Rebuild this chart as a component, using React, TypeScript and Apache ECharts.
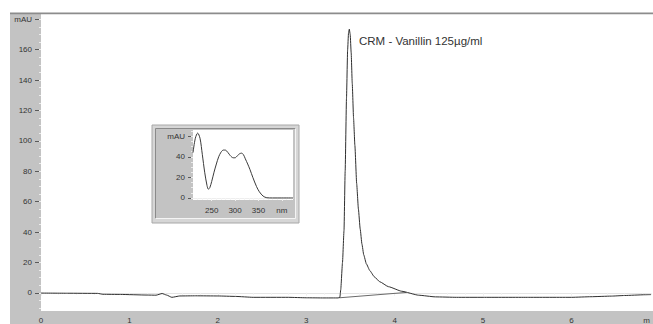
import React, { useEffect, useRef } from "react";
import * as echarts from "echarts";

// Main chromatogram (time in min, absorbance in mAU)
const timeMin = [
  0, 0.3, 0.64, 0.7, 0.9, 1.2, 1.3, 1.37, 1.42, 1.48, 1.57, 1.75, 2.0, 2.2, 2.4, 2.8, 3.0, 3.2, 3.36,
  3.38, 3.39, 3.41, 3.427, 3.44, 3.455, 3.468, 3.478, 3.487, 3.497, 3.508, 3.52, 3.535, 3.55, 3.57,
  3.59, 3.61, 3.63, 3.65, 3.68, 3.72, 3.77, 3.83, 3.93, 4.08, 4.27, 4.46, 4.7, 5.0, 5.5, 6.0, 6.22,
  6.45, 6.6, 6.83, 6.9,
];
const absorbance = [
  -0.2, -0.3, -0.4, -1.0, -1.1, -1.5, -1.6, -0.5, -1.5, -3.0, -2.1, -2.0, -2.1, -2.4, -3.0, -3.0, -3.3,
  -3.4, -3.4, -3.0, 2, 20, 41, 80, 128, 160, 171, 173.5, 170, 158, 138, 115, 97, 72, 55, 42, 32, 25,
  19, 14.5, 10.5, 7.3, 4, 1, -1.6, -2.7, -3.0, -3.0, -3.0, -3.0, -2.6, -2.2, -1.8, -1.3, -1.2,
];
// Integration baseline under the peak
const baselineTime = [3.375, 4.13];
const baselineValue = [-3.3, 0.2];

// Inset UV spectrum
const spectrumNm = [
  210, 215, 220, 225, 230, 235, 240, 243, 246, 250, 255, 260, 265, 270, 275, 279, 285, 290, 296, 300,
  305, 310, 314, 318, 322, 327, 332, 338, 346, 352, 360, 368, 380, 400, 424,
];
const spectrumMau = [
  44, 58, 63, 58, 42, 25, 12, 8.5, 10, 16, 25, 33, 40, 44.5, 46.5, 46.5, 44, 41, 39, 39, 41, 43, 43.5,
  42, 38, 33, 27.5, 20, 11, 6, 1.8, 0.2, 0, 0, 0,
];

// Tick labels
const mainYTicks = [0, 20, 40, 60, 80, 100, 120, 140, 160, 180];
const mainYUnitTick = 180;
const mainXTicks = [0, 1, 2, 3, 4, 5, 6];
const mainXUnitPos = 6.85;
const insetXTicks = [250, 300, 350, 400];
const insetXUnitTick = 400;
const insetYTicks = [0, 20, 40, 60];
const insetYUnitTick = 60;

const annotation = "CRM - Vanillin 125µg/ml";

const FONT = "Liberation Sans, Arial, sans-serif";

function range(a: number, b: number, step: number) {
  const out: number[] = [];
  for (let v = a; v <= b + 1e-9; v += step) out.push(Math.round(v * 1000) / 1000);
  return out;
}

export default function App() {
  const ref = useRef<HTMLDivElement>(null);
  useEffect(() => {
    document.body.style.margin = "0";
    if (!ref.current) return;
    const chart = echarts.init(ref.current, undefined, { renderer: "svg" });

    const mainData = timeMin.map((t, i) => [t, absorbance[i]]);
    const baseData = baselineTime.map((t, i) => [t, baselineValue[i]]);
    const specData = spectrumNm.map((n, i) => [n, spectrumMau[i]]);

    const labelStyle = { fontSize: 8, color: "#333", fontFamily: FONT };

    chart.setOption({
      animation: false,
      grid: [
        { left: 41, top: 14, width: 612, height: 297, show: false },
        { left: 193, top: 130, width: 100, height: 70, show: false },
      ],
      xAxis: [
        {
          type: "value", gridIndex: 0, position: "bottom", min: 0, max: 6.9,
          axisLine: { show: true, lineStyle: { color: "#e4e4e4", width: 1 } },
          axisTick: { show: true, customValues: mainXTicks, length: 3, lineStyle: { color: "#f0f0f0" } },
          axisLabel: {
            ...labelStyle, margin: 5,
            customValues: [...mainXTicks, mainXUnitPos],
            formatter: (v: number) => (Math.abs(v - mainXUnitPos) < 1e-6 ? "m" : String(v)),
          },
          splitLine: { show: false },
        },
        {
          type: "value", gridIndex: 0, position: "bottom", min: 0, max: 6.9,
          axisLine: { show: false },
          axisTick: { show: true, customValues: range(0, 6.8, 0.2), length: 2, lineStyle: { color: "#f0f0f0" } },
          axisLabel: { show: false },
          splitLine: { show: false },
        },
        {
          type: "value", gridIndex: 1, position: "bottom", min: 210, max: 424,
          axisLine: { show: true, lineStyle: { color: "#eeeeee" } },
          axisTick: { show: true, customValues: insetXTicks, length: 3, lineStyle: { color: "#f4f4f4" } },
          axisLabel: {
            ...labelStyle, margin: 6,
            customValues: insetXTicks,
            formatter: (v: number) => (v === insetXUnitTick ? "nm" : String(v)),
          },
          splitLine: { show: false },
        },
        {
          type: "value", gridIndex: 1, position: "bottom", min: 210, max: 424,
          axisLine: { show: false },
          axisTick: { show: true, customValues: range(220, 420, 10), length: 2, lineStyle: { color: "#f4f4f4" } },
          axisLabel: { show: false },
          splitLine: { show: false },
        },
      ],
      yAxis: [
        {
          type: "value", gridIndex: 0, position: "left", min: -12, max: 183.5,
          axisLine: { show: false },
          axisTick: { show: true, customValues: mainYTicks, length: 6, lineStyle: { color: "#5a5a5a" } },
          axisLabel: {
            ...labelStyle, margin: 9,
            customValues: mainYTicks,
            formatter: (v: number) => (v === mainYUnitTick ? "mAU" : String(v)),
          },
          splitLine: { show: false },
        },
        {
          type: "value", gridIndex: 0, position: "left", min: -12, max: 183.5,
          axisLine: { show: false },
          axisTick: { show: true, customValues: range(-10, 180, 5), length: 2, lineStyle: { color: "#ececec" } },
          axisLabel: { show: false },
          splitLine: { show: false },
        },
        {
          type: "value", gridIndex: 1, position: "left", min: -2, max: 66,
          axisLine: { show: false },
          axisTick: { show: true, customValues: insetYTicks, length: 5, lineStyle: { color: "#5a5a5a" } },
          axisLabel: {
            ...labelStyle, margin: 8,
            customValues: insetYTicks,
            formatter: (v: number) => (v === insetYUnitTick ? "mAU" : String(v)),
          },
          splitLine: { show: false },
        },
        {
          type: "value", gridIndex: 1, position: "left", min: -2, max: 66,
          axisLine: { show: false },
          axisTick: { show: true, customValues: range(0, 65, 5), length: 2, lineStyle: { color: "#ececec" } },
          axisLabel: { show: false },
          splitLine: { show: false },
        },
      ],
      graphic: [
        // main frame bands
        { type: "rect", z: -20, shape: { x: 10, y: 14, width: 31, height: 310 }, style: { fill: "#c3c3c3" } },
        { type: "rect", z: -20, shape: { x: 10, y: 311, width: 643, height: 13 }, style: { fill: "#c3c3c3" } },
        { type: "rect", z: -20, shape: { x: 10, y: 12.5, width: 643, height: 1.8 }, style: { fill: "#8c8c8c" } },
        // inset frame
        { type: "rect", z: -15, shape: { x: 152, y: 125, width: 147, height: 98 }, style: { fill: "#d6d6d6", stroke: "#a8a8a8", lineWidth: 1 } },
        { type: "rect", z: -14, shape: { x: 155.5, y: 128.5, width: 140, height: 90 }, style: { fill: "#c3c3c3" } },
        { type: "polyline", z: -13, shape: { points: [[155.5, 218.5], [155.5, 128.5], [295.5, 128.5]] }, style: { stroke: "#8a8a8a", lineWidth: 1, fill: "none" } },
        { type: "polyline", z: -13, shape: { points: [[155.5, 218.5], [295.5, 218.5], [295.5, 128.5]] }, style: { stroke: "#f4f4f4", lineWidth: 1, fill: "none" } },
        { type: "rect", z: -12, shape: { x: 193, y: 130, width: 100, height: 70 }, style: { fill: "#ffffff" } },
        // annotation
        {
          type: "text", z: 10, x: 359, y: 41,
          style: { text: annotation, fontSize: 11.5, fontFamily: FONT, fill: "#333", verticalAlign: "middle" },
        },
      ],
      series: [
        {
          type: "line", xAxisIndex: 0, yAxisIndex: 0, data: mainData, showSymbol: false,
          smooth: 0.15, smoothMonotone: "x",
          lineStyle: { color: "#2f2f2f", width: 1 }, z: 3,
        },
        {
          type: "line", xAxisIndex: 0, yAxisIndex: 0, data: baseData, showSymbol: false,
          lineStyle: { color: "#6a6a6a", width: 1 }, z: 2,
        },
        {
          type: "line", xAxisIndex: 2, yAxisIndex: 2, data: specData, showSymbol: false, smooth: 0.3,
          lineStyle: { color: "#3a3a3a", width: 1 }, z: 3,
        },
      ],
    });
    return () => chart.dispose();
  }, []);
  return <div ref={ref} style={{ width: 653, height: 324 }} />;
}
